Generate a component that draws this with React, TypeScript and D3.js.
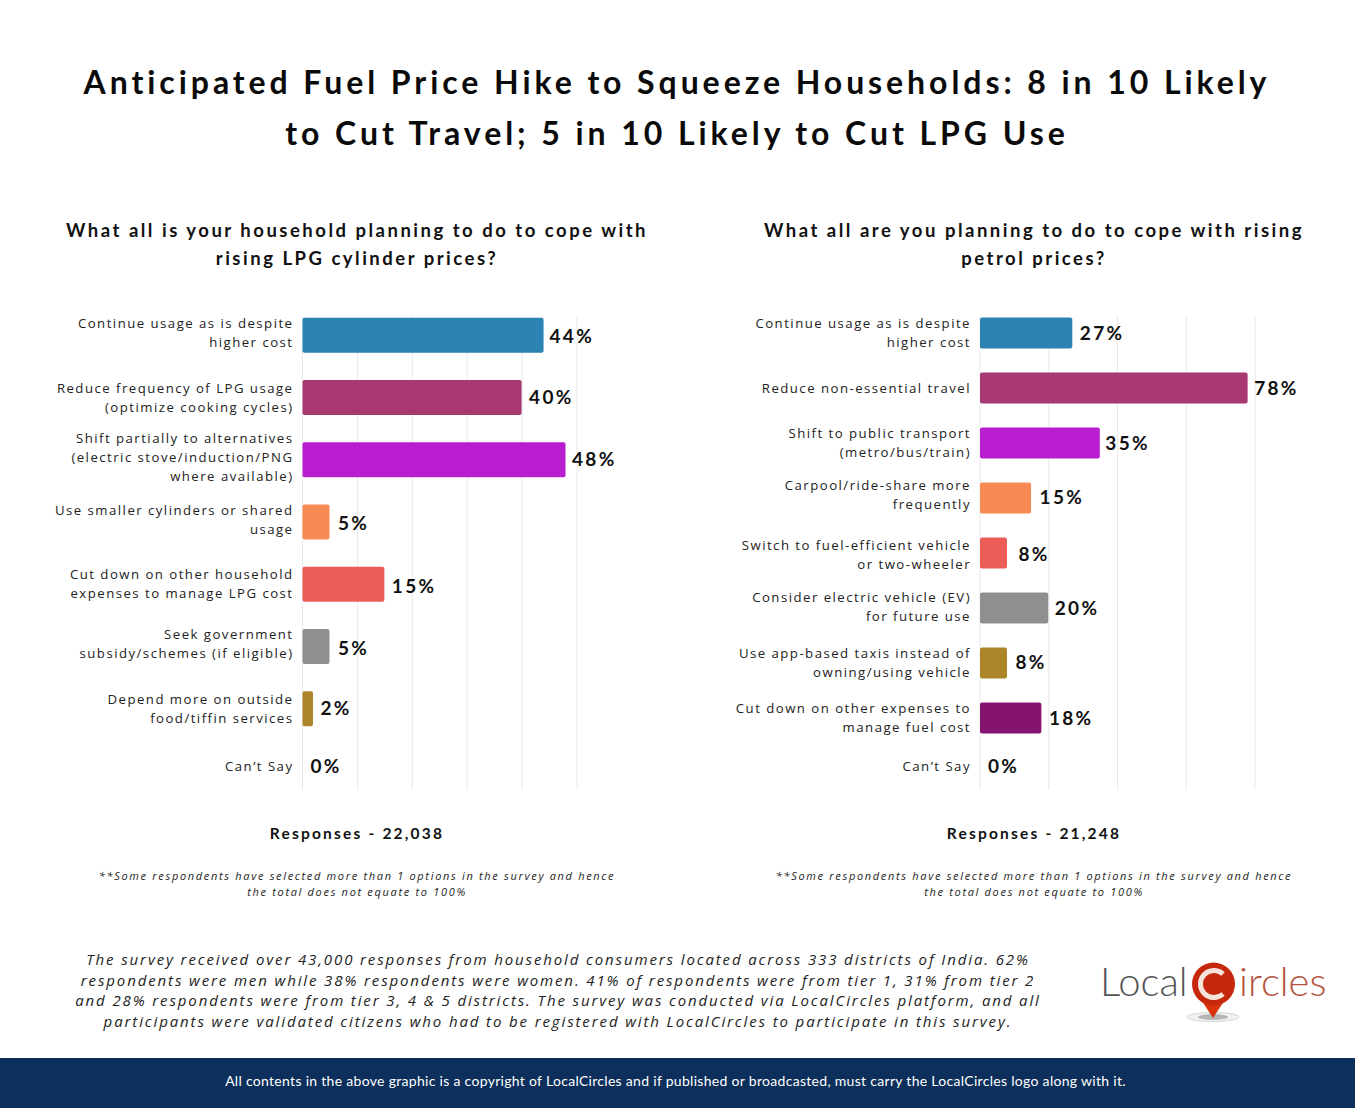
import React from "react";
import * as d3 from "d3";

const W = 1355, H = 1108;

const titleLines = ["Anticipated Fuel Price Hike to Squeeze Households: 8 in 10 Likely", "to Cut Travel; 5 in 10 Likely to Cut LPG Use"];
const lpgQuestion = ["What all is your household planning to do to cope with", "rising LPG cylinder prices?"];
const petrolQuestion = ["What all are you planning to do to cope with rising", "petrol prices?"];

const lpgCategories = [
  ["Continue usage as is despite", "higher cost"],
  ["Reduce frequency of LPG usage", "(optimize cooking cycles)"],
  ["Shift partially to alternatives", "(electric stove/induction/PNG", "where available)"],
  ["Use smaller cylinders or shared", "usage"],
  ["Cut down on other household", "expenses to manage LPG cost"],
  ["Seek government", "subsidy/schemes (if eligible)"],
  ["Depend more on outside", "food/tiffin services"],
  ["Can’t Say"],
];
const lpgValues = [44, 40, 48, 5, 15, 5, 2, 0];
const lpgColors = ["#2b83b3", "#a83870", "#b91dd0", "#f68a52", "#ec5d58", "#8f8f8f", "#ac8528", "#85146f"];
const lpgTicks = [0, 10, 20, 30, 40, 50];

const petrolCategories = [
  ["Continue usage as is despite", "higher cost"],
  ["Reduce non-essential travel"],
  ["Shift to public transport", "(metro/bus/train)"],
  ["Carpool/ride-share more", "frequently"],
  ["Switch to fuel-efficient vehicle", "or two-wheeler"],
  ["Consider electric vehicle (EV)", "for future use"],
  ["Use app-based taxis instead of", "owning/using vehicle"],
  ["Cut down on other expenses to", "manage fuel cost"],
  ["Can’t Say"],
];
const petrolValues = [27, 78, 35, 15, 8, 20, 8, 18, 0];
const petrolColors = ["#2b83b3", "#a83870", "#b91dd0", "#f68a52", "#ec5d58", "#8f8f8f", "#ac8528", "#85146f", "#85146f"];
const petrolTicks = [0, 20, 40, 60, 80];

const noteLines = ["**Some respondents have selected more than 1 options in the survey and hence", "the total does not equate to 100%"];
const bodyLines = [
  "The survey received over 43,000 responses from household consumers located across 333 districts of India. 62%",
  "respondents were men while 38% respondents were women. 41% of respondents were from tier 1, 31% from tier 2",
  "and 28% respondents were from tier 3, 4 & 5 districts. The survey was conducted via LocalCircles platform, and all",
  "participants were validated citizens who had to be registered with LocalCircles to participate in this survey.",
];
const footerText = "All contents in the above graphic is a copyright of LocalCircles and if published or broadcasted, must carry the LocalCircles logo along with it.";

// layout tweaks, kept apart from the data
const lpgLayout = {
  x0: 302.5, x50: 577, maxTick: 50, band: [304, 802], barH: 35,
  labelY: [332.5, 397.5, 457, 519.5, 583.5, 643.5, 708.5, 766.5],
  valueY: [336, 397, 459, 523, 586, 648, 708, 766],
  valueDx: [5.5, 7, 6, 8, 7, 8, 7, 8],
  cx: 357, responses: "Responses - 22,038", question: lpgQuestion, qx: 357,
};
const petrolLayout = {
  x0: 980, x50: 1255, maxTick: 80, band: [305.5, 800.5], barH: 31,
  labelY: [332.5, 388, 442.5, 494.5, 554.5, 606.5, 662.5, 717.5, 766.5],
  valueY: [333, 388, 443, 497, 554, 608, 662, 718, 766],
  valueDx: [7, 6, 5, 8, 11, 6, 8, 7, 8],
  cx: 1034, responses: "Responses - 21,248", question: petrolQuestion, qx: 1034,
};

const LABEL = "'Open Sans', sans-serif";
const HEAD = "Lato, sans-serif";

function Panel({ categories, values, colors, ticks, layout }: any) {
  const x = d3.scaleLinear().domain([0, layout.maxTick]).range([layout.x0, layout.x50]);
  const bandW = layout.band[1] - layout.band[0];
  const p = 1 - layout.barH / (bandW / values.length);
  const y = d3.scaleBand<number>().domain(d3.range(values.length)).range(layout.band).paddingInner(p).paddingOuter(p / 2);
  return (
    <g>
      {layout.question.map((t: string, i: number) => (
        <text key={t} x={layout.qx} y={237 + i * 28} textAnchor="middle" fontFamily={HEAD} fontWeight={700} fontSize={18.5} letterSpacing={2.5} fill="#111">{t}</text>
      ))}
      {ticks.map((t: number) => (
        <line key={t} x1={x(t)} x2={x(t)} y1={316} y2={790} stroke="#e8e8e8" strokeWidth={1} />
      ))}
      {values.map((v: number, i: number) => (
        <g key={i}>
          {v > 0 && <rect x={x(0)} y={y(i)} width={x(v) - x(0) - 0.5} height={y.bandwidth()} rx={2} fill={colors[i]} />}
          <text x={x(v) + layout.valueDx[i]} y={layout.valueY[i] + 6.5} fontFamily={HEAD} fontWeight={700} fontSize={19} letterSpacing={2.3} fill="#111">{v}%</text>
          {categories[i].map((line: string, j: number) => (
            <text key={j} x={x(0) - 9} y={layout.labelY[i] + (j - (categories[i].length - 1) / 2) * 19 + 4.5} textAnchor="end" fontFamily={LABEL} fontSize={13.2} letterSpacing={1.47} fill="#222">{line}</text>
          ))}
        </g>
      ))}
      <text x={layout.cx} y={839} textAnchor="middle" fontFamily={HEAD} fontWeight={700} fontSize={15.5} letterSpacing={2.2} fill="#111">{layout.responses}</text>
      {noteLines.map((t, i) => (
        <text key={t} x={layout.cx} y={880 + i * 16} textAnchor="middle" fontFamily={LABEL} fontStyle="italic" fontSize={11} letterSpacing={1.68} fill="#222">{t}</text>
      ))}
    </g>
  );
}

function Logo() {
  return (
    <g>
      <text x={1100} y={996} fontFamily={HEAD} fontWeight={300} fontSize={40} fill="#555">Local</text>
      <text x={1239} y={996} fontFamily={HEAD} fontWeight={300} fontSize={40} fill="#b5523e">ircles</text>
      <ellipse cx={1213} cy={1017} rx={26} ry={4.5} fill="#f2f2f2" stroke="#d5d5d5" strokeWidth={1} />
      <ellipse cx={1213} cy={1017} rx={15} ry={3} fill="#b5b5b5" />
      <path d="M1196 992 L1213 1018 L1230 992 Z" fill="#d8340f" />
      <circle cx={1213.5} cy={984} r={21.5} fill="#c5280c" />
      <path d="M1223 974 A13.5 13.5 0 1 0 1223 994" fill="none" stroke="#f6e3dc" strokeWidth={5} />
    </g>
  );
}

export default function App() {
  return (
    <svg width={W} height={H} viewBox={`0 0 ${W} ${H}`} style={{ position: "absolute", left: 0, top: 0, display: "block", background: "#fff" }}>
      {titleLines.map((t, i) => (
        <text key={t} x={677} y={94 + i * 51} textAnchor="middle" fontFamily={HEAD} fontWeight={700} fontSize={32} letterSpacing={3.93} fill="#0a0a0a">{t}</text>
      ))}
      <Panel categories={lpgCategories} values={lpgValues} colors={lpgColors} ticks={lpgTicks} layout={lpgLayout} />
      <Panel categories={petrolCategories} values={petrolValues} colors={petrolColors} ticks={petrolTicks} layout={petrolLayout} />
      {bodyLines.map((t, i) => (
        <text key={t} x={558} y={965 + i * 20.7} textAnchor="middle" fontFamily={LABEL} fontStyle="italic" fontSize={15} letterSpacing={1.88} fill="#222">{t}</text>
      ))}
      <Logo />
      <rect x={0} y={1058} width={W} height={50} fill="#0c2f5c" />
      <text x={675.5} y={1086} textAnchor="middle" fontFamily={HEAD} fontSize={14} letterSpacing={0.3} fill="#fff">{footerText}</text>
    </svg>
  );
}
